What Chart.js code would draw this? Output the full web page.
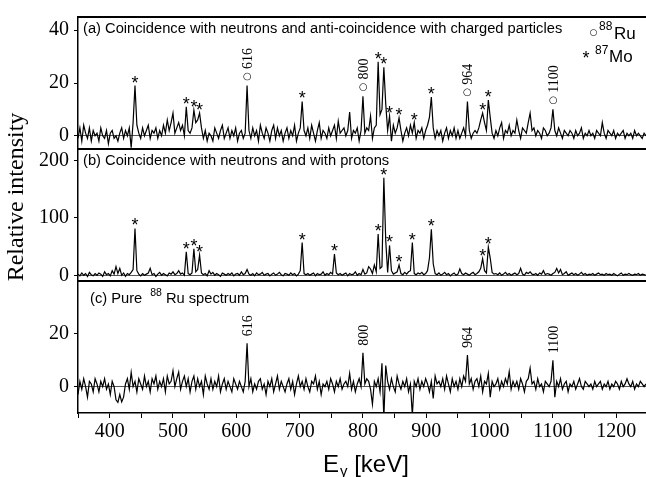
<!DOCTYPE html>
<html lang="en">
<head>
<meta charset="UTF-8">
<title>88Ru gamma spectra</title>
<script src="https://cdn.jsdelivr.net/npm/chart.js"></script>
<style>
    body {
        margin: 0;
        background-color: #fff;
    }
    #spectrum {
        display: block;
    }
</style>
</head>
<body>
<canvas id="spectrum" width="646" height="477"></canvas>

<script>
    // spectra are binned in 3 keV steps starting at 350 keV
    const E_START = 350;
    const E_STEP = 3;

    // (a) neutrons + anti-coincidence with charged particles
    const countsA = [
        -1, 3, -2, 4, 1, -1, 3, -2, 2, 0,
        1, -2, 3, 0, -1, 2, -3, 1, 2, -1,
        0, -2, 1, 3, -1, 2, 0, 3, -4.5, 5,
        19, 4, 1, -1, 3, 0, 2, 4, -1, 2,
        1, 3, -1, 2, 0, 4, 1, 6, 2, 5,
        8.6, 1, 3, 5, 2, 4, 0, 11, 2, 1,
        3, 9.7, 5, 6, 8.6, 3, -1, 2, -2, 1,
        0, -2, 3, 1, -1, 2, 4, -1, 1, 3,
        -1, 2, 0, 3, -2, 1, 2, -1, 1, 19,
        2, -1, 3, 0, 2, -2, 4, 1, -1, 3,
        1, -2, 2, 4, -1, 3, 0, 2, -2, 1,
        3, -1, 2, 0, 4, -2, 1, 3, 13, 2,
        0, 3, -1, 4, 1, -2, 2, 5, -1, 2,
        1, -1, 3, 0, 2, 4, -1, 5.5, 1, 2,
        3, 0, 2, 9, -1, 2, 1, 3, -2, 2,
        15, 1, 3, 2, 7.5, -1, 3, 4, 28, 8,
        10, 26, 12, 2, 7.5, -2, 4, 1, 3, 6.8,
        2, -2, 1, 3, 0, 4, 1, 5, -1, 2,
        1, 3, -1, 2, 4, 7, 14.7, 3, -1, 2,
        0, 2, -2, 1, 3, -1, 2, 0, 3, -1,
        2, -1, 1, 3, 0, 13, 2, -1, 1, 2,
        1, 3, 6, 8.6, 5, 2, 13.5, 7, 1, -1,
        2, 0, 3, 5, -1, 2, 1, 4, 0, 2,
        1, 6, 2, -1, 3, 2, 1, 5, 8.6, 2,
        3, 0, 2, 1, -1, 3, 2, 0, 1, 3,
        10, 2, 0, 3, 1, -1, 2, 1, 0, 2,
        1, -1, 2, 0, 1, 3, -1, 1, 0, 2,
        0, 1, -1, 2, 1, 0, 5, 1, -1, 2,
        1, 0, 2, -1, 1, 0, 1, 2, -1, 1,
        0, 1, -1, 2, 0, 1, 0, -1, 1, 0
    ];

    // (b) neutrons + protons
    const countsB = [
        2, -1, 4, 0, 3, -2, 5, 1, -1, 3,
        0, 4, 2, -2, 6, 1, 3, -1, 8, 2,
        15, 3, 12, 0, 4, -2, 3, 1, 5, 10,
        81.5, 8, 2, -1, 3, 0, 2, 4, 12, 1,
        3, -2, 2, 5, 0, 3, 1, -1, 4, 2,
        6, 1, 3, 8, 2, 4, 0, 41, 3, 1,
        4, 46, 6, 10, 35, 4, 1, 3, -1, 8,
        2, 5, 0, 3, 1, -2, 4, 2, 0, 3,
        1, 4, -1, 2, 3, 0, 6, 1, 3, 10,
        2, 0, 3, -1, 4, 1, 2, 5, 0, 2,
        3, -1, 2, 4, 0, 2, 5, 1, -1, 3,
        2, 0, 4, 1, 3, -1, 2, 8, 57, 3,
        1, 3, 0, 2, 4, -1, 3, 1, 2, 6,
        0, 3, 1, 5, 2, 37, 4, 1, 3, 0,
        2, 4, -1, 3, 1, 2, 6, 0, 3, 1,
        10, 2, 4, 15, 11, 3, 18, 6, 72, 12,
        15, 170, 60, 5, 52, 8, 2, 4, 6, 18,
        3, 1, 5, 2, 6, 8, 57, 3, 1, 4,
        2, 5, 1, 3, 8, 30, 80, 20, 3, 1,
        4, 0, 2, 5, 1, 3, -1, 2, 4, 0,
        2, 11, 3, 1, 4, 2, 0, 3, 5, 1,
        3, 6, 12, 29, 8, 4, 49, 30, 5, 2,
        3, 1, 4, 0, 2, 5, 1, 3, 0, 2,
        4, 1, 3, 12, 2, 0, 5, 3, 6, 2,
        1, 3, 0, 4, 2, 8, 1, 3, 2, 0,
        3, 5, 12, 4, 10, 1, 3, 6, 0, 2,
        4, 1, 3, 0, 2, 5, 1, 3, 0, 2,
        1, 3, 0, 2, 4, 1, 2, 0, 3, 1,
        2, 0, 3, 1, -1, 2, 4, 0, 2, 1,
        3, 1, 0, 2, 1, 3, 0, 2, 1, 0
    ];

    // (c) pure 88Ru spectrum
    const countsC = [
        -3, 2, -1, 3, 0, -4, 2, 1, -2, 3,
        1, -2, 2, 0, 3, -1, 1, -3, 2, 0,
        -5, -6, -3, -5.8, -4, 1, 3, -1, 5.4, 0,
        2, -2, 3, 1, -1, 4, 0, 2, -2, 3,
        1, 4, -1, 2, 0, 3, -2, 4, 1, 2,
        6, 0, 3, 5.5, -1, 2, 4, 0, 3, -2,
        2, 4, -1, 3, 0, 2, -3, 4, 1, -1,
        3, -1, 2, 0, 4, -2, 1, 3, -1, 2,
        0, -2, 3, 1, -1, 2, 0, -2, 2, 16.4,
        0, 3, -2, 1, -1, 2, 3, -1, 1, -3,
        2, 0, 3, -2, 1, 4, -1, 2, 0, -2,
        1, 3, -1, 2, -3, 1, 4, 0, 2, -1,
        3, 0, -2, 2, 1, 4, -1, 2, -3, 1,
        0, 2, -1, 3, 1, -2, 2, 0, 3, -1,
        1, 2, 0, 5, -1, 2, -2, 1, 3, 0,
        12.8, 1, 3, 2, -1, -6.7, 2, 0, 3, -2,
        8.8, -12, 8, 2, -1, 3, 0, -2, 4, 1,
        -1, 2, 0, 3, -2, 1, -11, 2, 0, 3,
        -1, 2, 0, 3, 1, -2, 2, -4.5, 4, 1,
        2, 0, 3, -1, 4, 1, -2, 3, 0, 2,
        -1, 3, 0, 4, 2, 12, 1, 3, -1, 2,
        3, 0, 4, -2, 2, 1, 5, -4, 2, 0,
        1, 3, -1, 2, 0, 3, 1, 5.7, -1, 2,
        0, 2, -1, 3, 1, -2, 2, 3, 7, 1,
        2, -1, 3, 0, 1, -2, 2, 1, 0, 2,
        10, -4, 2, 0, 3, -1, 1, 2, -2, 1,
        0, 2, -1, 1, 3, 0, -1, 2, 1, 0,
        1, -1, 2, 0, 1, 2, -1, 1, 0, 2,
        -1, 1, 0, 2, 1, -1, 2, 0, 1, 3,
        1, 0, 2, -1, 1, 0, 2, 1, 0, 1
    ];

    // 87Mo lines (marked *) and 88Ru lines (marked with their energy)
    const moLinesA = [440, 521, 533, 542, 704, 824, 833, 842, 857, 881, 908, 989, 998];
    const moLinesB = [440, 521, 533, 542, 704, 755, 824, 833, 842, 857, 878, 908, 989, 998];
    const ruLines = [617, 800, 965, 1100];
    const ruLabels = ['616', '800', '964', '1100'];

    const energyTicks = [350, 400, 450, 500, 550, 600, 650, 700, 750, 800, 850, 900, 950, 1000, 1050, 1100, 1150, 1200];
    const energyLabels = [400, 500, 600, 700, 800, 900, 1000, 1100, 1200];
    const ticksA = [0, 10, 20, 30, 40];
    const labelsA = [0, 20, 40];
    const ticksB = [0, 50, 100, 150, 200];
    const labelsB = [0, 100, 200];
    const ticksC = [0, 10, 20, 30];
    const labelsC = [0, 20];

    const SERIF = "'Liberation Serif', 'Times New Roman', serif";
    const SANS = "'Liberation Sans', Arial, sans-serif";

    function toPoints(counts) {
        return counts.map((v, i) => ({x: E_START + i * E_STEP, y: v}));
    }

    function countAt(counts, e) {
        return counts[Math.round((e - E_START) / E_STEP)];
    }

    function panelAxis(min, max, ticks, labels, weight) {
        return {
            type: 'linear',
            position: 'left',
            stack: 'panels',
            stackWeight: 1,
            weight: weight,
            min: min,
            max: max,
            afterBuildTicks: s => { s.ticks = ticks.map(v => ({value: v})); },
            afterFit: s => { s.width = 78; },
            ticks: {
                font: {family: SERIF, size: 20},
                color: '#000',
                padding: 5,
                callback: v => labels.includes(v) ? String(v) : ''
            },
            grid: {
                color: c => (c.tick && c.tick.value === 0) ? '#555' : 'rgba(0,0,0,0)',
                tickColor: '#000',
                tickLength: 4,
                lineWidth: 1
            },
            border: {color: '#000', width: 1.5}
        };
    }

    function drawStars(ctx, x, y, counts, lines) {
        ctx.font = '18px ' + SANS;
        ctx.textAlign = 'center';
        ctx.textBaseline = 'alphabetic';
        lines.forEach(e => {
            const py = y.getPixelForValue(countAt(counts, e));
            ctx.fillText('*', x.getPixelForValue(e), py + 3);
        });
    }

    function drawRuLabels(ctx, x, y, counts, withCircle, gap) {
        ruLines.forEach((e, i) => {
            const px = x.getPixelForValue(e);
            const py = y.getPixelForValue(countAt(counts, e)) - gap;
            ctx.save();
            ctx.translate(px, py);
            ctx.rotate(-Math.PI / 2);
            ctx.textAlign = 'left';
            ctx.textBaseline = 'middle';
            let off = 0;
            if (withCircle) {
                ctx.font = "10px 'DejaVu Sans'";
                ctx.fillText('\u25CB', 0, 0);
                off = ctx.measureText('\u25CB').width + 3;
            }
            ctx.font = '14px ' + SERIF;
            ctx.fillText(ruLabels[i], off, 1);
            ctx.restore();
        });
    }

    const annotations = {
        id: 'annotations',
        afterDraw(chart) {
            const {ctx, chartArea, scales} = chart;
            const {x, yA, yB, yC} = scales;
            ctx.save();
            ctx.fillStyle = '#000';
            ctx.strokeStyle = '#000';

            // panel frames
            ctx.lineWidth = 2;
            [yA, yB, yC].forEach(s => {
                ctx.beginPath();
                ctx.moveTo(chartArea.left, s.top);
                ctx.lineTo(chartArea.right, s.top);
                ctx.stroke();
            });

            // panel captions
            ctx.font = '14.7px ' + SANS;
            ctx.textAlign = 'left';
            ctx.textBaseline = 'middle';
            ctx.fillText('(a) Coincidence with neutrons and anti-coincidence with charged particles', 83, yA.top + 12);
            ctx.fillText('(b) Coincidence with neutrons and with protons', 83, yB.top + 12);
            let cx = 90;
            const cy = yC.top + 18;
            ctx.fillText('(c) Pure', cx, cy);
            cx += ctx.measureText('(c) Pure').width + 8;
            ctx.font = '10.5px ' + SANS;
            ctx.fillText('88', cx, cy - 6);
            cx += ctx.measureText('88').width + 4;
            ctx.font = '14.7px ' + SANS;
            ctx.fillText('Ru spectrum', cx, cy);

            // legend
            ctx.font = "9px 'DejaVu Sans'";
            ctx.textAlign = 'center';
            ctx.fillText('\u25CB', 593.5, 32.5);
            ctx.font = '18px ' + SANS;
            ctx.textBaseline = 'alphabetic';
            ctx.fillText('*', 586, 64);
            ctx.textAlign = 'left';
            ctx.textBaseline = 'middle';
            ctx.font = '12px ' + SANS;
            ctx.fillText('88', 599, 27);
            ctx.fillText('87', 595, 50.5);
            ctx.textBaseline = 'alphabetic';
            ctx.font = '17px ' + SANS;
            ctx.fillText('Ru', 614, 38.5);
            ctx.fillText('Mo', 609, 62);

            // peak markers
            drawStars(ctx, x, yA, countsA, moLinesA);
            drawStars(ctx, x, yB, countsB, moLinesB);
            drawRuLabels(ctx, x, yA, countsA, true, 5);
            drawRuLabels(ctx, x, yC, countsC, false, 7);

            // axis titles
            ctx.save();
            ctx.translate(17, 197);
            ctx.rotate(-Math.PI / 2);
            ctx.font = '24px ' + SERIF;
            ctx.textAlign = 'center';
            ctx.textBaseline = 'middle';
            ctx.fillText('Relative intensity', 0, 0);
            ctx.restore();

            ctx.textAlign = 'left';
            ctx.textBaseline = 'alphabetic';
            let tx = 323;
            ctx.font = '24px ' + SANS;
            ctx.fillText('E', tx, 472);
            tx += ctx.measureText('E').width + 1;
            ctx.font = '15px ' + SANS;
            ctx.fillText('\u03B3', tx, 476);
            tx += ctx.measureText('\u03B3').width;
            ctx.font = '24px ' + SANS;
            ctx.fillText(' [keV]', tx, 472);

            ctx.restore();
        }
    };

    const ctx = document.getElementById('spectrum').getContext('2d');
    const chart = new Chart(ctx, {
        type: 'line',
        data: {
            datasets: [
                {data: toPoints(countsA), yAxisID: 'yA'},
                {data: toPoints(countsB), yAxisID: 'yB'},
                {data: toPoints(countsC), yAxisID: 'yC'}
            ]
        },
        options: {
            responsive: false,
            animation: false,
            layout: {padding: {top: 13, left: 0, right: 0, bottom: 0}},
            elements: {
                point: {radius: 0},
                line: {borderColor: '#000', borderWidth: 1.2, tension: 0}
            },
            plugins: {
                legend: {display: false},
                tooltip: {enabled: false}
            },
            scales: {
                x: {
                    type: 'linear',
                    min: 350,
                    max: 1247,
                    afterBuildTicks: s => { s.ticks = energyTicks.map(v => ({value: v})); },
                    afterFit: s => { s.height = 64; },
                    ticks: {
                        font: {family: SERIF, size: 20},
                        color: '#000',
                        padding: 2,
                        maxRotation: 0,
                        autoSkip: false,
                        callback: v => energyLabels.includes(v) ? String(v) : ''
                    },
                    grid: {drawOnChartArea: false, tickColor: '#000', tickLength: 5},
                    border: {color: '#000', width: 1.5}
                },
                yA: panelAxis(-5, 45, ticksA, labelsA, 3),
                yB: panelAxis(-10, 220, ticksB, labelsB, 2),
                yC: panelAxis(-10, 40, ticksC, labelsC, 1)
            }
        },
        plugins: [annotations]
    });
</script>
</body>
</html>
